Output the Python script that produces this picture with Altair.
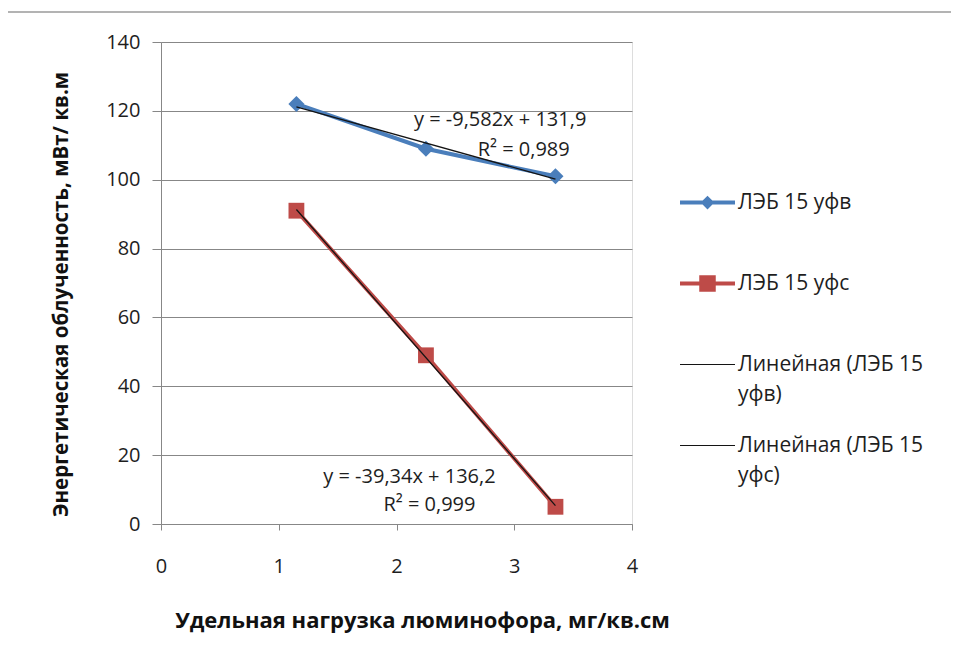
import altair as alt
import pandas as pd

# ---- data ----
x_load = [1.15, 2.25, 3.35]
uvf_values = [122, 109, 101]
uvs_values = [91, 49, 5]
series_names = ["ЛЭБ 15 уфв", "ЛЭБ 15 уфс"]
trend_names = ["Линейная (ЛЭБ 15 уфв)", "Линейная (ЛЭБ 15 уфс)"]
series_colors = ["#4a7ebb", "#be4b48"]
trend_color = "#141414"
x_ticks = [0, 1, 2, 3, 4]
y_ticks = [0, 20, 40, 60, 80, 100, 120, 140]
eq_labels = ["y = -9,582x + 131,9", "R² = 0,989", "y = -39,34x + 136,2", "R² = 0,999"]
eq_x = [2.88, 3.08, 2.11, 2.28]
eq_y = [117.3, 108.6, 13.6, 5.5]
x_title = "Удельная нагрузка люминофора, мг/кв.см"
y_title = "Энергетическая облученность, мВт/ кв.м"

FONT = "Open Sans"
GRID = "#878787"
TXT = "#1e1e1e"

df = pd.DataFrame({
    "x": x_load * 2,
    "y": uvf_values + uvs_values,
    "series": [series_names[0]] * 3 + [series_names[1]] * 3,
})
eq_df = pd.DataFrame({"x": eq_x, "y": eq_y, "text": eq_labels})
legend_domain = series_names + trend_names
legend_df = pd.DataFrame({"x": [x_load[0]] * 4, "y": [0] * 4, "entry": legend_domain})

xscale = alt.Scale(domain=[0, 4], nice=False)
yscale = alt.Scale(domain=[0, 140], nice=False)

x_axis = alt.Axis(values=x_ticks, grid=False, domainColor=GRID, tickColor=GRID, tickSize=6,
                  labelFont=FONT, labelFontSize=20, labelColor=TXT, labelPadding=26, format="d",
                  labelFlush=False,
                  titleFont=FONT, titleFontSize=22, titleFontWeight="bold", titleColor="#111111",
                  titlePadding=34, titleX=261)
y_axis = alt.Axis(values=y_ticks, grid=True, gridColor=GRID, domainColor=GRID, tickColor=GRID,
                  tickSize=9, labelFont=FONT, labelFontSize=20, labelColor=TXT, labelPadding=12,
                  titleFont=FONT, titleFontSize=20.5, titleFontWeight="bold", titleColor="#111111",
                  titlePadding=34, titleY=252)

xenc = alt.X("x:Q", scale=xscale, axis=x_axis, title=x_title)
yenc = alt.Y("y:Q", scale=yscale, axis=y_axis, title=y_title)

layers = []

# frame of the chart area (decoration)
frame_df = pd.DataFrame({"k": [0]})
layers.append(alt.Chart(frame_df).mark_rule(color="#9a9a9a", strokeWidth=1.5).encode(
    x=alt.value(-156), y=alt.value(-30), y2=alt.value(640)))
layers.append(alt.Chart(frame_df).mark_rule(color="#9a9a9a", strokeWidth=1.5).encode(
    x=alt.value(-156), x2=alt.value(820), y=alt.value(-30)))

shapes = {series_names[0]: "diamond", series_names[1]: "square"}
sizes = {series_names[0]: 260, series_names[1]: 250}

for name, col in zip(series_names, series_colors):
    base = alt.Chart(df).transform_filter(alt.datum.series == name)
    layers.append(base.mark_line(color=col, strokeWidth=4).encode(x=xenc, y=yenc))
for name, col in zip(series_names, series_colors):
    base = alt.Chart(df).transform_filter(alt.datum.series == name)
    layers.append(base.mark_point(shape=shapes[name], filled=True, opacity=1, color=col,
                                  size=sizes[name]).encode(x=xenc, y=yenc))
for name in series_names:
    base = alt.Chart(df).transform_filter(alt.datum.series == name)
    layers.append(base.transform_regression("x", "y").mark_line(
        color=trend_color, strokeWidth=1.3).encode(x=xenc, y=yenc))

layers.append(alt.Chart(eq_df).mark_text(font=FONT, fontSize=20, color=TXT).encode(
    x=xenc, y=yenc, text="text:N"))

# legend (built from an empty layer carrying the legend scales)
leg = alt.Legend(
    title=None, orient="none", legendX=519, legendY=133, padding=0,
    symbolSize=3025, symbolStrokeWidth=0, labelFont=FONT, labelFontSize=21, labelColor=TXT,
    labelLimit=400, labelOffset=3, rowPadding=13,
    labelExpr="indexof(datum.label, 'Линейная') == 0 ? [substring(datum.label, 0, 16), substring(datum.label, 17)] : [datum.label, ' ']",
)
paths = [
    "M-1,-0.073L1,-0.073L1,0.073L-1,0.073Z M0,-0.25L0.25,0L0,0.25L-0.25,0Z",
    "M-1,-0.073L1,-0.073L1,0.073L-1,0.073Z M-0.3,-0.3L0.3,-0.3L0.3,0.3L-0.3,0.3Z",
    "M-1,-0.022L1,-0.022L1,0.022L-1,0.022Z",
    "M-1,-0.022L1,-0.022L1,0.022L-1,0.022Z",
]
colors4 = series_colors + [trend_color, trend_color]
layers.append(alt.Chart(legend_df).transform_filter("false").mark_point(filled=True, opacity=1).encode(
    x=xenc, y=yenc,
    fill=alt.Fill("entry:N", scale=alt.Scale(domain=legend_domain, range=colors4), legend=leg),
    shape=alt.Shape("entry:N", scale=alt.Scale(domain=legend_domain, range=paths), legend=leg),
))

chart = alt.layer(*layers).properties(
    width=471, height=482,
    padding={"left": 153, "top": 34, "right": 319, "bottom": 130},
    autosize=alt.AutoSizeParams(type="none"),
    background="white",
).configure_view(strokeWidth=0).configure(style={"guide-label": {"lineHeight": 30}})

chart.save("out.html", embed_options={"renderer": "svg", "actions": False})
